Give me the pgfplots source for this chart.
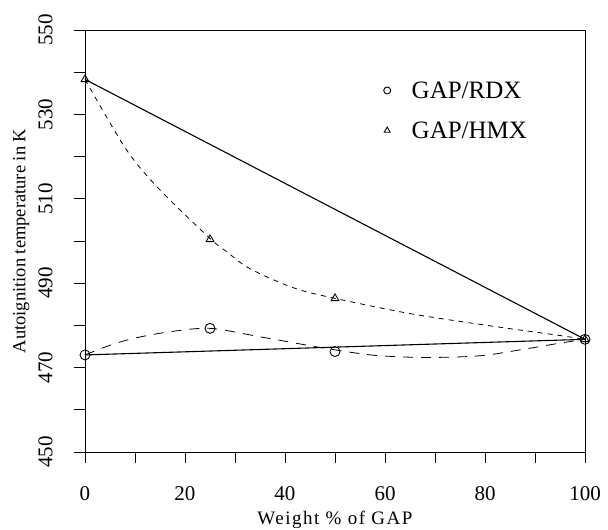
\documentclass[border=0pt]{standalone}
\usepackage{fontspec}
\setmainfont{Liberation Serif}
\usepackage{pgfplots}
\pgfplotsset{compat=1.18}

\begin{document}
\begin{tikzpicture}
\useasboundingbox (-85pt,-78pt) rectangle (523pt,452pt);
\begin{axis}[
  scale only axis, width=500pt, height=422pt,
  xmin=0, xmax=100, ymin=450, ymax=550, clip=false,
  xtick={0,20,...,100}, minor xtick={10,30,...,90},
  ytick={450,470,...,550}, minor ytick={460,480,...,540},
  tick align=outside, xtick pos=bottom, ytick pos=left,
  major tick length=11pt, minor tick length=11pt,
  tick style={black, line width=0.8pt},
  axis line style={line width=0.8pt},
  /pgf/number format/assume math mode=true,
  xticklabel style={font=\fontsize{21}{22}\selectfont, anchor=north, yshift=-20pt},
  yticklabel style={font=\fontsize{21}{22}\selectfont, rotate=90, anchor=south, yshift=18pt},
  xlabel={Weight \% of GAP},
  xlabel style={font=\fontsize{19}{22}\selectfont\addfontfeature{LetterSpace=8}, yshift=-4pt},
  ylabel={Autoignition temperature in K},
  ylabel style={font=\fontsize{18.5}{22}\selectfont, yshift=2pt},
  legend style={at={(axis cs:59.1,538.8)}, anchor=north west, draw=none, fill=none,
    font=\fontsize{25}{28}\selectfont, row sep=18pt, cells={anchor=west}},
  legend cell align=left,
  legend image post style={mark size=3.5pt, line width=1.6pt},
]
% straight mixing lines
\addplot[black, line width=1.1pt, forget plot] coordinates {(0,538.3) (100,476.7)};
\addplot[black, line width=1.1pt, forget plot] coordinates {(0,473.0) (100,476.7)};
% fitted curve GAP/HMX (short dashes)
\addplot[black, line width=0.8pt, dash pattern=on 5pt off 5pt, smooth, forget plot] coordinates {
  (0,538.3) (8.3,521.6) (15,512.1) (25,500.6) (28.3,497.5) (32.3,493.9) (37.7,490.8)
  (43,488.4) (50,486.4) (65,482.8) (81,479.9) (95,477.6) (100,476.7)};
% fitted curve GAP/RDX (long dashes)
\addplot[black, line width=0.8pt, dash pattern=on 10pt off 8pt, smooth, forget plot] coordinates {
  (0,473.0) (5,475.3) (10,477.0) (17,478.5) (25,479.3) (35,477.3) (44,475.4)
  (50,474.2) (58,472.9) (68,472.4) (79,472.8) (88,474.4) (95,475.8) (100,476.7)};
% measured points
\addplot[only marks, mark=o, mark size=5pt, mark options={line width=0.9pt}, black]
  coordinates {(0,473.0) (25,479.3) (50,473.8) (100,476.7)};
\addlegendentry{\hspace*{19pt}GAP/RDX}
\addplot[only marks, mark=triangle, mark size=4.5pt, mark options={line width=0.9pt}, black]
  coordinates {(0,538.3) (25,500.4) (50,486.4) (100,476.7)};
\addlegendentry{\hspace*{19pt}GAP/HMX}
\end{axis}
\end{tikzpicture}
\end{document}
